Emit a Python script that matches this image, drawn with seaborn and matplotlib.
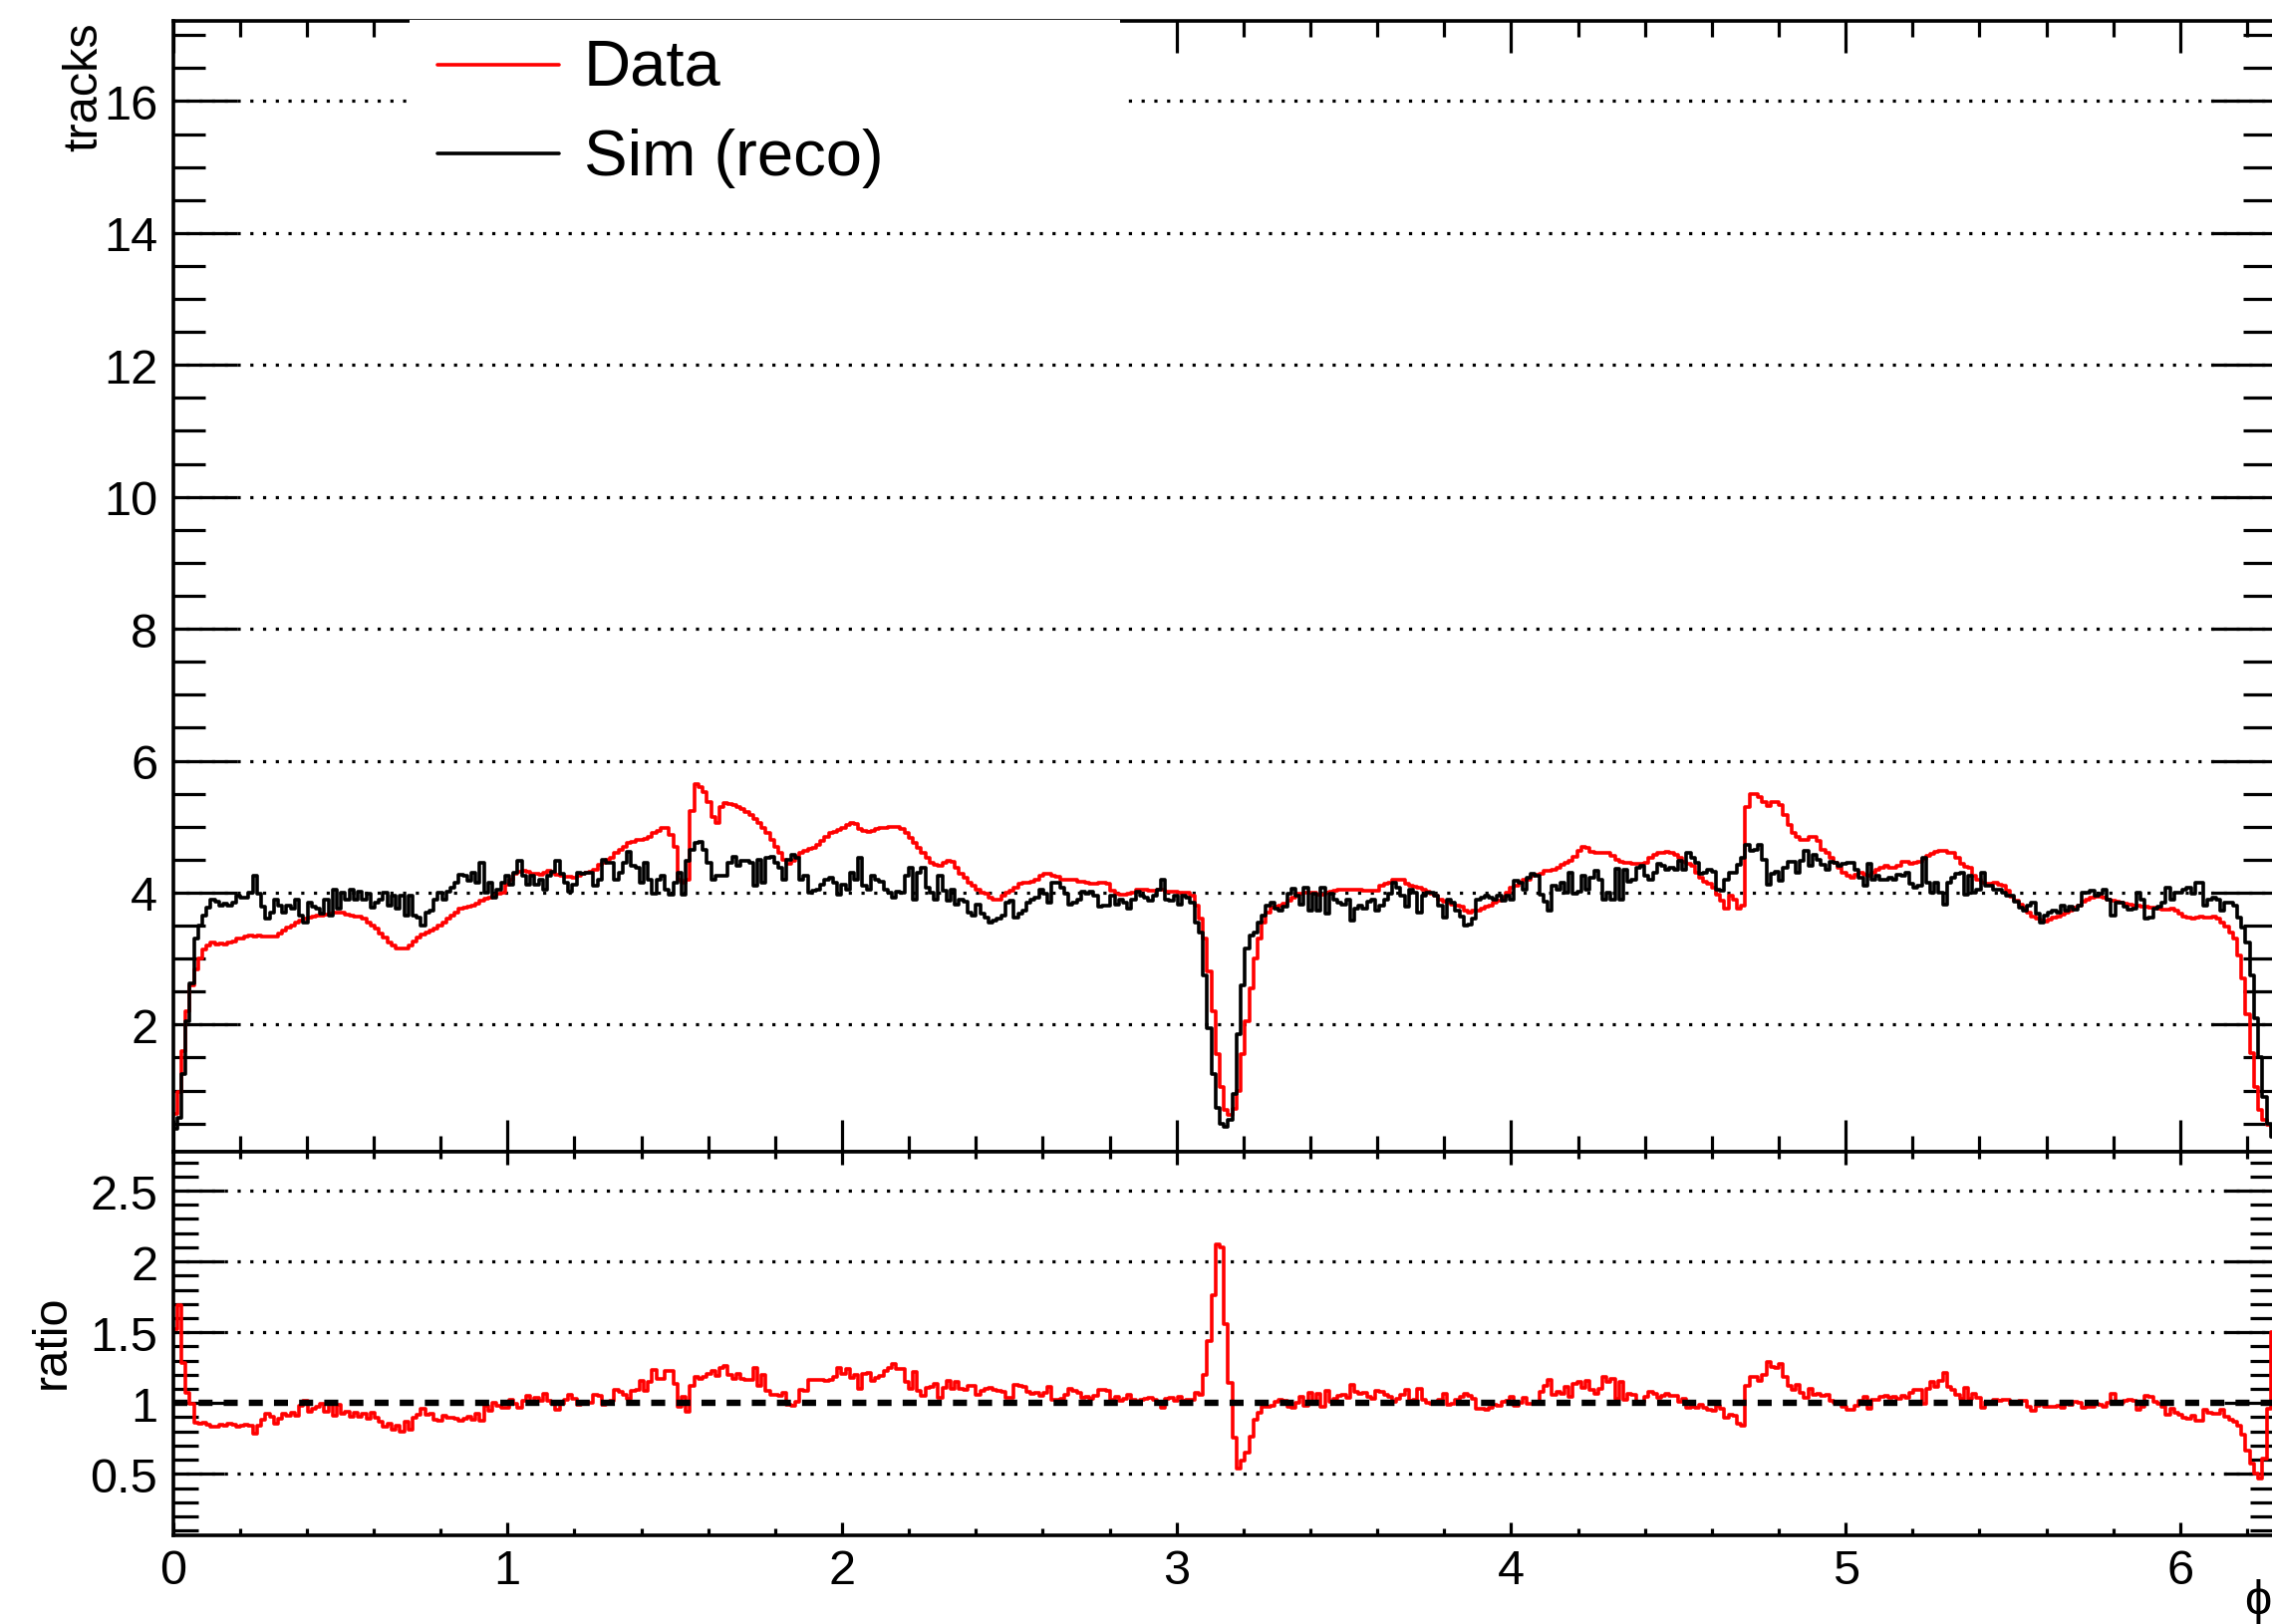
import numpy as np
import pandas as pd
import matplotlib
matplotlib.use("Agg")
import matplotlib.pyplot as plt
from matplotlib.ticker import MultipleLocator, FuncFormatter
from matplotlib.lines import Line2D
from matplotlib.patches import Rectangle
import seaborn as sns

# Tracks per phi bin, 500 equal bins over [0, 2*pi]
data_counts = [
    0.64, 0.98, 1.60, 2.20, 2.60, 2.84, 3.00, 3.14, 3.20, 3.24,
    3.22, 3.23, 3.22, 3.24, 3.26, 3.30, 3.31, 3.33, 3.35, 3.34,
    3.35, 3.34, 3.33, 3.34, 3.33, 3.38, 3.42, 3.47, 3.50, 3.55,
    3.57, 3.60, 3.62, 3.63, 3.65, 3.65, 3.66, 3.68, 3.70, 3.70,
    3.69, 3.67, 3.65, 3.64, 3.63, 3.60, 3.55, 3.50, 3.45, 3.38,
    3.32, 3.25, 3.20, 3.16, 3.15, 3.16, 3.20, 3.26, 3.32, 3.37,
    3.40, 3.43, 3.45, 3.50, 3.55, 3.60, 3.65, 3.70, 3.75, 3.77,
    3.78, 3.80, 3.84, 3.88, 3.91, 3.93, 3.95, 3.98, 4.00, 4.12,
    4.20, 4.28, 4.32, 4.33, 4.32, 4.29, 4.28, 4.27, 4.30, 4.33,
    4.30, 4.27, 4.25, 4.24, 4.24, 4.23, 4.25, 4.28, 4.30, 4.32,
    4.35, 4.42, 4.45, 4.50, 4.53, 4.60, 4.65, 4.70, 4.75, 4.77,
    4.80, 4.80, 4.82, 4.84, 4.90, 4.93, 4.98, 4.98, 4.88, 4.70,
    4.20, 4.15, 4.20, 5.23, 5.64, 5.60, 5.52, 5.38, 5.15, 5.05,
    5.30, 5.36, 5.34, 5.33, 5.30, 5.26, 5.22, 5.17, 5.12, 5.05,
    4.98, 4.90, 4.80, 4.70, 4.60, 4.50, 4.43, 4.48, 4.55, 4.60,
    4.63, 4.66, 4.68, 4.72, 4.78, 4.85, 4.90, 4.92, 4.95, 4.98,
    5.02, 5.05, 5.04, 4.96, 4.93, 4.92, 4.93, 4.96, 4.98, 4.98,
    5.00, 5.00, 5.00, 4.97, 4.90, 4.83, 4.76, 4.68, 4.60, 4.52,
    4.45, 4.42, 4.40, 4.45, 4.48, 4.47, 4.38, 4.28, 4.22, 4.15,
    4.10, 4.05, 4.00, 3.98, 3.92, 3.90, 3.90, 3.95, 4.00, 4.03,
    4.08, 4.13, 4.15, 4.15, 4.16, 4.20, 4.25, 4.28, 4.28, 4.25,
    4.24, 4.20, 4.20, 4.19, 4.19, 4.17, 4.16, 4.15, 4.14, 4.14,
    4.15, 4.15, 4.13, 4.03, 3.98, 3.97, 3.97, 3.98, 4.00, 4.04,
    4.05, 4.04, 4.03, 4.03, 4.04, 4.04, 4.02, 4.02, 4.02, 4.00,
    4.00, 4.00, 3.95, 3.80, 3.60, 3.30, 2.80, 2.20, 1.55, 1.05,
    0.70, 0.63, 0.72, 1.00, 1.55, 2.05, 2.55, 3.00, 3.30, 3.55,
    3.70, 3.77, 3.78, 3.80, 3.83, 3.88, 3.93, 3.98, 3.99, 4.00,
    4.00, 4.00, 3.97, 3.97, 4.00, 4.02, 4.03, 4.04, 4.04, 4.04,
    4.04, 4.05, 4.05, 4.03, 4.03, 4.03, 4.03, 4.10, 4.13, 4.15,
    4.19, 4.19, 4.19, 4.13, 4.10, 4.09, 4.07, 4.05, 4.01, 3.99,
    3.95, 3.90, 3.86, 3.85, 3.82, 3.80, 3.78, 3.72, 3.70, 3.72,
    3.73, 3.75, 3.78, 3.80, 3.85, 3.88, 3.92, 4.00, 4.08, 4.10,
    4.15, 4.20, 4.20, 4.25, 4.27, 4.29, 4.33, 4.33, 4.35, 4.38,
    4.42, 4.45, 4.48, 4.54, 4.63, 4.70, 4.68, 4.62, 4.60, 4.61,
    4.61, 4.60, 4.56, 4.50, 4.47, 4.45, 4.45, 4.44, 4.43, 4.43,
    4.45, 4.52, 4.58, 4.60, 4.61, 4.62, 4.61, 4.57, 4.52, 4.47,
    4.44, 4.40, 4.30, 4.22, 4.17, 4.14, 4.08, 3.97, 3.88, 3.76,
    3.95, 3.90, 3.76, 3.80, 5.30, 5.50, 5.50, 5.45, 5.38, 5.32,
    5.37, 5.38, 5.33, 5.18, 5.02, 4.90, 4.85, 4.80, 4.80, 4.84,
    4.84, 4.78, 4.65, 4.60, 4.52, 4.45, 4.38, 4.30, 4.25, 4.23,
    4.27, 4.30, 4.27, 4.25, 4.30, 4.35, 4.38, 4.40, 4.37, 4.38,
    4.40, 4.46, 4.46, 4.44, 4.45, 4.47, 4.51, 4.56, 4.59, 4.62,
    4.63, 4.64, 4.61, 4.60, 4.52, 4.43, 4.39, 4.37, 4.25, 4.19,
    4.15, 4.13, 4.14, 4.15, 4.12, 4.10, 4.03, 3.94, 3.88, 3.82,
    3.77, 3.70, 3.64, 3.60, 3.57, 3.56, 3.59, 3.62, 3.64, 3.66,
    3.69, 3.73, 3.77, 3.80, 3.86, 3.90, 3.93, 3.94, 3.94, 3.93,
    3.90, 3.88, 3.86, 3.85, 3.84, 3.82, 3.80, 3.80, 3.79, 3.79,
    3.77, 3.77, 3.75, 3.74, 3.74, 3.75, 3.73, 3.68, 3.64, 3.62,
    3.61, 3.62, 3.63, 3.62, 3.62, 3.63, 3.60, 3.55, 3.48, 3.40,
    3.30, 3.05, 2.70, 2.15, 1.57, 1.05, 0.70, 0.55, 0.48, 0.45,
]

sim_counts = [
    0.42, 0.58, 1.25, 2.05, 2.62, 3.30, 3.50, 3.65, 3.77, 3.90,
    3.87, 3.80, 3.83, 3.80, 3.85, 3.95, 3.93, 3.92, 4.00, 4.25,
    3.98, 3.78, 3.60, 3.70, 3.90, 3.80, 3.70, 3.80, 3.75, 3.90,
    3.65, 3.55, 3.85, 3.78, 3.75, 3.68, 3.90, 3.65, 4.05, 3.75,
    4.00, 3.90, 4.05, 3.90, 4.02, 3.90, 3.98, 3.77, 3.85, 3.90,
    4.00, 3.80, 3.95, 3.75, 3.95, 3.65, 3.95, 3.65, 3.62, 3.50,
    3.70, 3.72, 3.90, 4.00, 3.90, 4.02, 4.08, 4.15, 4.27, 4.25,
    4.18, 4.30, 4.15, 4.45, 4.00, 4.15, 3.93, 4.05, 4.15, 4.25,
    4.12, 4.30, 4.48, 4.25, 4.12, 4.25, 4.12, 4.20, 4.05, 4.25,
    4.32, 4.48, 4.28, 4.15, 4.02, 4.12, 4.30, 4.28, 4.30, 4.30,
    4.10, 4.20, 4.50, 4.45, 4.45, 4.20, 4.30, 4.45, 4.62, 4.40,
    4.38, 4.15, 4.45, 4.20, 3.98, 4.20, 4.25, 4.05, 3.97, 4.15,
    4.30, 3.97, 4.48, 4.65, 4.75, 4.77, 4.65, 4.45, 4.20, 4.25,
    4.25, 4.25, 4.45, 4.55, 4.40, 4.48, 4.48, 4.45, 4.10, 4.50,
    4.15, 4.52, 4.55, 4.45, 4.38, 4.20, 4.50, 4.58, 4.52, 4.20,
    4.25, 4.00, 4.03, 4.05, 4.12, 4.20, 4.22, 4.15, 3.97, 4.12,
    4.05, 4.30, 4.20, 4.52, 4.10, 4.05, 4.25, 4.20, 4.17, 4.05,
    4.00, 3.92, 4.02, 4.00, 4.25, 4.38, 3.90, 4.30, 4.38, 4.08,
    4.00, 3.90, 4.25, 4.03, 3.88, 4.05, 3.82, 3.90, 3.87, 3.70,
    3.65, 3.82, 3.68, 3.62, 3.55, 3.57, 3.60, 3.65, 3.85, 3.88,
    3.62, 3.68, 3.72, 3.85, 3.90, 3.92, 4.05, 3.98, 3.85, 4.15,
    4.15, 4.08, 3.98, 3.82, 3.85, 3.90, 4.01, 3.98, 4.02, 3.95,
    3.79, 3.80, 3.80, 3.95, 3.82, 3.90, 3.85, 3.75, 3.90, 4.02,
    3.96, 3.92, 3.88, 3.95, 4.05, 4.19, 3.90, 3.88, 3.96, 3.82,
    3.95, 3.92, 3.85, 3.55, 3.40, 2.75, 1.95, 1.25, 0.73, 0.50,
    0.45, 0.55, 0.95, 1.85, 2.60, 3.15, 3.35, 3.40, 3.55, 3.65,
    3.80, 3.85, 3.75, 3.72, 3.78, 3.98, 4.06, 3.96, 3.82, 4.07,
    3.73, 3.98, 3.73, 4.07, 3.68, 3.98, 3.90, 3.85, 3.82, 3.90,
    3.58, 3.75, 3.80, 3.75, 3.87, 3.90, 3.72, 3.80, 3.90, 3.98,
    4.15, 4.08, 3.96, 3.78, 4.05, 4.00, 3.70, 3.95, 4.00, 4.00,
    3.96, 3.80, 3.62, 3.90, 3.85, 3.72, 3.63, 3.50, 3.52, 3.60,
    3.90, 3.92, 3.96, 3.93, 3.90, 3.95, 3.88, 3.95, 3.90, 4.18,
    4.15, 4.05, 4.22, 4.28, 4.25, 3.97, 3.87, 3.72, 4.10, 4.05,
    4.15, 4.00, 4.30, 3.99, 4.02, 4.25, 4.05, 4.22, 4.33, 4.20,
    3.90, 4.00, 3.90, 4.36, 3.90, 4.35, 4.17, 4.20, 4.38, 4.40,
    4.25, 4.20, 4.30, 4.43, 4.40, 4.35, 4.38, 4.35, 4.48, 4.35,
    4.60, 4.53, 4.45, 4.28, 4.30, 4.35, 4.32, 4.05, 4.03, 4.20,
    4.30, 4.30, 4.42, 4.53, 4.72, 4.63, 4.65, 4.72, 4.50, 4.12,
    4.28, 4.32, 4.18, 4.37, 4.47, 4.47, 4.30, 4.48, 4.64, 4.40,
    4.58, 4.50, 4.42, 4.35, 4.46, 4.45, 4.40, 4.43, 4.45, 4.45,
    4.35, 4.22, 4.10, 4.43, 4.20, 4.25, 4.20, 4.20, 4.22, 4.20,
    4.27, 4.25, 4.30, 4.13, 4.08, 4.10, 4.53, 4.15, 4.00, 4.15,
    4.00, 3.82, 4.15, 4.22, 4.28, 4.30, 3.97, 4.25, 4.00, 4.05,
    4.30, 4.10, 4.10, 4.05, 4.05, 4.00, 3.95, 3.95, 3.87, 3.77,
    3.72, 3.80, 3.85, 3.68, 3.55, 3.65, 3.70, 3.72, 3.70, 3.80,
    3.72, 3.78, 3.74, 3.80, 4.00, 4.00, 4.03, 3.95, 3.98, 4.05,
    3.90, 3.65, 3.85, 3.85, 3.78, 3.74, 3.75, 4.00, 3.90, 3.60,
    3.62, 3.75, 3.78, 3.85, 4.08, 3.90, 4.00, 4.00, 4.05, 4.07,
    3.98, 4.15, 4.15, 3.80, 3.90, 3.92, 3.90, 3.72, 3.85, 3.85,
    3.80, 3.62, 3.47, 3.25, 2.75, 2.10, 1.50, 0.90, 0.50, 0.30,
]

series_labels = ["Data", "Sim (reco)"]
series_colors = ["red", "black"]
y_title = "tracks"
ratio_title = "ratio"
x_title = "ϕ"
x_ticks = [0, 1, 2, 3, 4, 5, 6]
main_y_ticks = [2, 4, 6, 8, 10, 12, 14, 16]
ratio_y_ticks = [0.5, 1.0, 1.5, 2.0, 2.5]
ratio_ref = 1.0

# ---------------------------------------------------------------- data frame
n_bins = len(data_counts)
phi_range = (0.0, 2.0 * np.pi)
edges = np.linspace(phi_range[0], phi_range[1], n_bins + 1)
centers = 0.5 * (edges[:-1] + edges[1:])
df = pd.DataFrame({"phi": centers, "data": data_counts, "sim": sim_counts})
df["ratio"] = df["data"] / df["sim"]

# ---------------------------------------------------------------- style
sns.set_theme(style="ticks")
plt.rcParams["font.family"] = ["Liberation Sans", "DejaVu Sans"]
plt.rcParams.update({
    "text.color": "black", "axes.labelcolor": "black",
    "xtick.color": "black", "ytick.color": "black",
    "axes.edgecolor": "black", "figure.facecolor": "white",
    "axes.facecolor": "white",
})

W, H = 2280, 1631
fig = plt.figure(figsize=(W / 100, H / 100), dpi=100)


def px_box(left, top, right, bottom):
    return [left / W, 1 - bottom / H, (right - left) / W, (bottom - top) / H]


ax = fig.add_axes(px_box(173.5, 21.7, 2283, 1156.7))
axr = fig.add_axes(px_box(173.5, 1156.7, 2283, 1541.7))

# ---------------------------------------------------------------- histograms
line_w = 2.6
hist_kws = dict(x="phi", bins=n_bins, binrange=phi_range, element="step",
                fill=False, linewidth=line_w)
sns.histplot(data=df, weights="data", color=series_colors[0], ax=ax, **hist_kws)
sns.histplot(data=df, weights="sim", color=series_colors[1], ax=ax, **hist_kws)
sns.histplot(data=df, weights="ratio", color=series_colors[0], ax=axr, **hist_kws)
axr.axhline(ratio_ref, color="black", linewidth=4.6,
            linestyle=(0, (2.2, 1.75)), dash_capstyle="butt", zorder=4)

# ---------------------------------------------------------------- axes
fmt = FuncFormatter(lambda v, _: f"{v:g}")
grid_style = dict(color="black", linewidth=2.3, linestyle=(0, (1, 3.0)),
                  zorder=0.5)
for a in (ax, axr):
    a.set_xlim(*phi_range)
    a.set_xlabel("")
    a.set_ylabel("")
    for s in a.spines.values():
        s.set_linewidth(2.6)
        s.set_color("black")
        s.set_visible(True)
    a.xaxis.set_major_locator(MultipleLocator(1))
    a.xaxis.set_minor_locator(MultipleLocator(0.2))
    a.tick_params(which="both", direction="in", top=True, right=True,
                  width=2.3, color="black")
    a.yaxis.set_major_formatter(fmt)
    a.xaxis.set_major_formatter(fmt)
    a.grid(False)

# horizontal dotted grid (the ratio reference level carries its own dashed line)
for v in main_y_ticks:
    ax.axhline(v, **grid_style)
for v in ratio_y_ticks:
    if v != ratio_ref:
        axr.axhline(v, **grid_style)

ax.set_ylim(0.076, 17.22)
ax.set_yticks(main_y_ticks)
ax.yaxis.set_minor_locator(MultipleLocator(0.5))
ax.tick_params(axis="x", which="major", length=23, labelbottom=False)
ax.tick_params(axis="x", which="minor", length=11.5)
ax.tick_params(axis="y", which="major", length=46, labelsize=35, pad=11)
ax.tick_params(axis="y", which="minor", length=23)

axr.set_ylim(0.068, 2.777)
axr.set_yticks(ratio_y_ticks)
axr.set_xticks(x_ticks)
axr.xaxis.set_minor_locator(MultipleLocator(0.2))
axr.yaxis.set_minor_locator(MultipleLocator(0.1))
axr.tick_params(axis="x", which="major", length=9.4, labelsize=35, pad=9.5)
axr.tick_params(axis="x", which="minor", length=5)
axr.tick_params(axis="y", which="major", length=37, labelsize=35, pad=11)
axr.tick_params(axis="y", which="minor", length=18)

# ---------------------------------------------------------------- titles
fig.text(85 / W, 1 - 22 / H, y_title, rotation=90, ha="center", va="top",
         fontsize=35)
fig.text(52 / W, 1 - 1347 / H, ratio_title, rotation=90, ha="center",
         va="center", fontsize=35)
fig.text(2279 / W, 1 - 1620 / H, x_title, ha="right", va="baseline",
         fontsize=35)

# ---------------------------------------------------------------- legend
fig.add_artist(Rectangle((411 / W, 1 - 205 / H), 713 / W, (205 - 21.4) / H,
                         transform=fig.transFigure, facecolor="white",
                         edgecolor="none", zorder=1))
legend_rows = [(66, 86), (155, 176)]
for (line_y, base_y), label, color in zip(legend_rows, series_labels, series_colors):
    fig.add_artist(Line2D([439 / W, 561 / W], [1 - line_y / H] * 2,
                          transform=fig.transFigure, color=color,
                          linewidth=line_w, zorder=2))
    fig.text(586 / W, 1 - base_y / H, label, ha="left", va="baseline",
             fontsize=47, zorder=3)

fig.savefig("out.png", dpi=100)
